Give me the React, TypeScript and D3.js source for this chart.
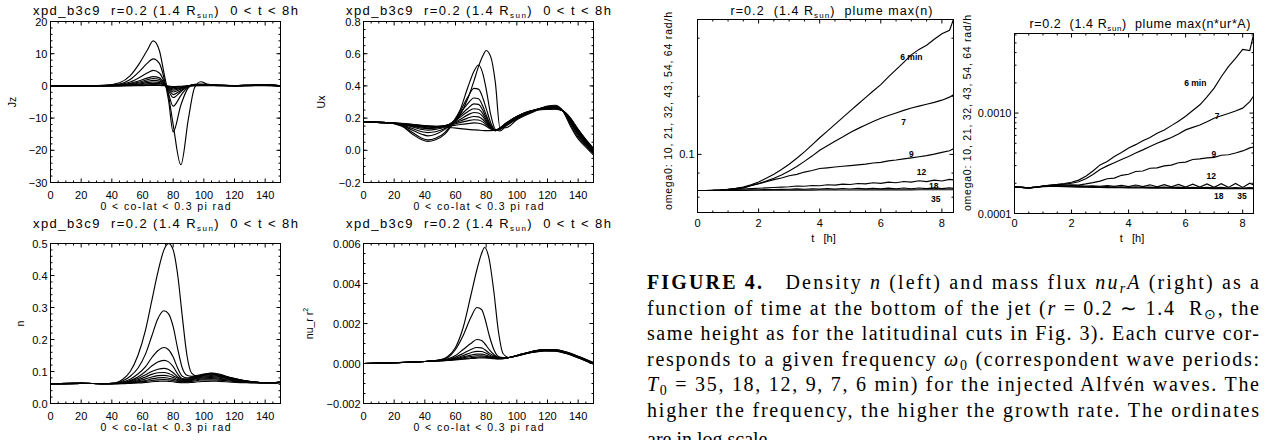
import React from 'react';
import * as d3 from 'd3';

// ---------- left block: latitudinal cuts at r=0.2, 0 < t < 8h ----------
const jzX = [0, 20, 35, 45, 52, 58, 63, 67, 71, 74, 77, 80, 85, 90, 94, 98, 102, 110, 120, 130, 140, 150];
const jzCurves = [
  [0, 0.05, 0.2, 1.0, 3.2, 7.0, 11.0, 14.0, 11.0, 4.0, -3.0, -12.0, -24.5, -10.0, -0.5, 1.3, 0.6, 0.2, 0.1, 0.2, 0.4, 0],
  [0, 0.05, 0.15, 0.6, 2.0, 4.5, 7.0, 8.4, 7.0, 2.5, -4.5, -14.3, -6.0, -0.5, 0.5, 0.6, 0.4, 0.2, 0.1, 0.2, 0.3, 0],
  [0, 0.03, 0.1, 0.4, 1.2, 2.6, 4.0, 4.8, 4.0, 1.5, -2.5, -6.3, -3.0, -0.2, 0.4, 0.4, 0.3, 0.2, 0.1, 0.2, 0.3, 0],
  [0, 0.03, 0.08, 0.3, 0.8, 1.6, 2.4, 2.9, 2.5, 1.0, -1.5, -3.6, -1.8, 0, 0.35, 0.35, 0.3, 0.2, 0.1, 0.2, 0.3, 0],
  [0, 0.02, 0.06, 0.2, 0.6, 1.2, 1.9, 2.3, 2.0, 0.8, -1.0, -2.7, -1.4, 0, 0.3, 0.3, 0.3, 0.2, 0.1, 0.2, 0.3, 0],
  [0, 0.02, 0.05, 0.15, 0.45, 0.9, 1.4, 1.7, 1.5, 0.6, -0.7, -1.9, -1.0, 0, 0.25, 0.3, 0.25, 0.15, 0.1, 0.15, 0.25, 0],
  [0, 0.01, 0.04, 0.1, 0.3, 0.6, 1.0, 1.2, 1.05, 0.4, -0.5, -1.3, -0.7, 0, 0.2, 0.25, 0.2, 0.15, 0.1, 0.15, 0.25, 0],
  [0, 0.01, 0.03, 0.08, 0.2, 0.4, 0.65, 0.8, 0.7, 0.3, -0.3, -0.9, -0.5, 0, 0.15, 0.2, 0.2, 0.1, 0.05, 0.1, 0.2, 0],
  [0, 0.01, 0.02, 0.05, 0.1, 0.2, 0.33, 0.4, 0.35, 0.15, -0.15, -0.5, -0.3, 0, 0.1, 0.15, 0.15, 0.1, 0.05, 0.1, 0.15, 0],
  [0, 0, 0.01, 0.02, 0.04, 0.08, 0.12, 0.15, 0.13, 0.05, -0.05, -0.2, -0.1, 0, 0.05, 0.08, 0.08, 0.05, 0.02, 0.05, 0.1, 0],
];

const uxX = [0, 15, 25, 32, 38, 42, 47, 53, 58, 63, 68, 72, 75, 78, 80, 83, 86, 89, 93, 100, 110, 120, 125, 130, 135, 140, 145, 150];
const uxCurves = [
  [0.175, 0.172, 0.15, 0.1, 0.065, 0.055, 0.065, 0.1, 0.16, 0.22, 0.32, 0.43, 0.52, 0.59, 0.62, 0.58, 0.42, 0.14, 0.14, 0.19, 0.235, 0.275, 0.28, 0.245, 0.15, 0.07, 0.02, -0.03],
  [0.175, 0.172, 0.152, 0.11, 0.075, 0.065, 0.075, 0.11, 0.17, 0.25, 0.39, 0.49, 0.53, 0.47, 0.38, 0.22, 0.13, 0.12, 0.15, 0.195, 0.24, 0.272, 0.275, 0.245, 0.16, 0.08, 0.03, -0.02],
  [0.175, 0.172, 0.155, 0.125, 0.1, 0.09, 0.1, 0.13, 0.17, 0.24, 0.33, 0.385, 0.38, 0.32, 0.26, 0.17, 0.125, 0.13, 0.155, 0.2, 0.243, 0.27, 0.272, 0.245, 0.17, 0.09, 0.035, -0.015],
  [0.175, 0.172, 0.158, 0.135, 0.115, 0.11, 0.115, 0.135, 0.17, 0.23, 0.29, 0.325, 0.32, 0.27, 0.22, 0.155, 0.125, 0.13, 0.158, 0.2, 0.245, 0.268, 0.27, 0.245, 0.175, 0.1, 0.04, -0.01],
  [0.175, 0.172, 0.16, 0.145, 0.13, 0.125, 0.13, 0.145, 0.175, 0.215, 0.26, 0.288, 0.285, 0.245, 0.205, 0.15, 0.125, 0.135, 0.16, 0.203, 0.245, 0.266, 0.268, 0.245, 0.18, 0.105, 0.045, -0.005],
  [0.175, 0.172, 0.162, 0.15, 0.138, 0.135, 0.137, 0.15, 0.172, 0.205, 0.24, 0.258, 0.255, 0.225, 0.19, 0.145, 0.125, 0.135, 0.162, 0.205, 0.245, 0.264, 0.266, 0.245, 0.185, 0.11, 0.05, 0],
  [0.175, 0.172, 0.163, 0.153, 0.143, 0.14, 0.142, 0.152, 0.168, 0.192, 0.22, 0.235, 0.232, 0.208, 0.18, 0.14, 0.123, 0.135, 0.163, 0.207, 0.246, 0.262, 0.264, 0.245, 0.19, 0.115, 0.055, 0.003],
  [0.175, 0.172, 0.164, 0.156, 0.148, 0.145, 0.146, 0.153, 0.165, 0.182, 0.2, 0.21, 0.208, 0.19, 0.17, 0.138, 0.122, 0.136, 0.165, 0.208, 0.247, 0.26, 0.262, 0.245, 0.192, 0.12, 0.058, 0.006],
  [0.175, 0.172, 0.165, 0.158, 0.151, 0.148, 0.148, 0.152, 0.16, 0.172, 0.183, 0.19, 0.188, 0.175, 0.16, 0.135, 0.122, 0.137, 0.167, 0.21, 0.247, 0.258, 0.26, 0.245, 0.195, 0.125, 0.062, 0.008],
  [0.175, 0.172, 0.166, 0.16, 0.153, 0.15, 0.149, 0.15, 0.153, 0.16, 0.166, 0.17, 0.168, 0.16, 0.15, 0.132, 0.122, 0.138, 0.168, 0.21, 0.247, 0.256, 0.258, 0.245, 0.198, 0.128, 0.065, 0.01],
  [0.175, 0.172, 0.167, 0.161, 0.155, 0.152, 0.149, 0.145, 0.14, 0.135, 0.13, 0.127, 0.125, 0.123, 0.122, 0.122, 0.125, 0.14, 0.17, 0.21, 0.245, 0.254, 0.256, 0.245, 0.2, 0.13, 0.068, 0.012],
];

const nX = [0, 20, 35, 42, 47, 52, 57, 62, 66, 70, 74, 77, 80, 83, 86, 89, 92, 96, 100, 105, 110, 118, 128, 140, 150];
const nCurves = [
  [0.062, 0.063, 0.062, 0.064, 0.075, 0.1, 0.15, 0.23, 0.32, 0.41, 0.48, 0.5, 0.48, 0.4, 0.27, 0.15, 0.095, 0.085, 0.09, 0.095, 0.092, 0.08, 0.07, 0.065, 0.066],
  [0.062, 0.063, 0.062, 0.063, 0.07, 0.085, 0.11, 0.155, 0.21, 0.265, 0.29, 0.28, 0.24, 0.17, 0.11, 0.088, 0.085, 0.088, 0.092, 0.094, 0.09, 0.08, 0.07, 0.065, 0.066],
  [0.062, 0.063, 0.062, 0.063, 0.067, 0.076, 0.092, 0.115, 0.143, 0.165, 0.175, 0.168, 0.145, 0.11, 0.085, 0.08, 0.082, 0.086, 0.09, 0.092, 0.088, 0.079, 0.07, 0.065, 0.066],
  [0.062, 0.063, 0.062, 0.063, 0.066, 0.072, 0.083, 0.1, 0.117, 0.13, 0.135, 0.13, 0.115, 0.092, 0.078, 0.077, 0.08, 0.084, 0.088, 0.09, 0.086, 0.078, 0.07, 0.065, 0.066],
  [0.062, 0.063, 0.062, 0.063, 0.065, 0.07, 0.078, 0.09, 0.1, 0.107, 0.11, 0.106, 0.096, 0.083, 0.075, 0.075, 0.078, 0.082, 0.086, 0.087, 0.084, 0.077, 0.069, 0.065, 0.066],
  [0.062, 0.063, 0.062, 0.063, 0.064, 0.068, 0.074, 0.083, 0.091, 0.096, 0.097, 0.094, 0.087, 0.079, 0.073, 0.073, 0.076, 0.08, 0.083, 0.084, 0.082, 0.076, 0.069, 0.065, 0.066],
  [0.062, 0.063, 0.062, 0.062, 0.064, 0.066, 0.071, 0.077, 0.083, 0.087, 0.088, 0.086, 0.081, 0.075, 0.071, 0.071, 0.074, 0.078, 0.08, 0.081, 0.079, 0.074, 0.068, 0.065, 0.066],
  [0.062, 0.063, 0.062, 0.062, 0.063, 0.065, 0.068, 0.072, 0.077, 0.08, 0.081, 0.079, 0.076, 0.072, 0.069, 0.069, 0.072, 0.075, 0.077, 0.078, 0.076, 0.072, 0.067, 0.065, 0.066],
  [0.062, 0.063, 0.062, 0.062, 0.063, 0.064, 0.066, 0.069, 0.072, 0.074, 0.075, 0.074, 0.072, 0.069, 0.067, 0.067, 0.069, 0.072, 0.074, 0.074, 0.073, 0.07, 0.066, 0.065, 0.066],
  [0.062, 0.063, 0.062, 0.062, 0.062, 0.063, 0.064, 0.066, 0.068, 0.069, 0.07, 0.069, 0.068, 0.066, 0.065, 0.065, 0.066, 0.068, 0.069, 0.07, 0.069, 0.067, 0.065, 0.064, 0.066],
];

const fluxX = [0, 20, 40, 50, 55, 60, 65, 70, 74, 77, 79, 82, 85, 88, 91, 95, 100, 110, 118, 125, 132, 140, 150];
const fluxCurves = [
  [0, 0.00004, 0.0001, 0.00018, 0.00035, 0.0008, 0.0018, 0.0034, 0.0047, 0.0055, 0.0058, 0.0052, 0.0036, 0.0016, 0.0005, 0.0003, 0.00038, 0.00055, 0.00062, 0.00062, 0.0005, 0.00028, -0.00003],
  [0, 0.00004, 0.0001, 0.00018, 0.0003, 0.0007, 0.0014, 0.0023, 0.0028, 0.0027, 0.0023, 0.0014, 0.0007, 0.00035, 0.0003, 0.0003, 0.00038, 0.00056, 0.00064, 0.00063, 0.00051, 0.00029, -0.00002],
  [0, 0.00004, 0.0001, 0.00017, 0.00024, 0.0004, 0.0007, 0.001, 0.0012, 0.00115, 0.001, 0.0007, 0.00045, 0.0003, 0.00028, 0.0003, 0.00038, 0.00057, 0.00065, 0.00064, 0.00052, 0.0003, -0.00001],
  [0, 0.00004, 0.0001, 0.00016, 0.0002, 0.00032, 0.0005, 0.0007, 0.0008, 0.00078, 0.0007, 0.00052, 0.00038, 0.00028, 0.00027, 0.0003, 0.00039, 0.00058, 0.00066, 0.00065, 0.00053, 0.00031, 0],
  [0, 0.00004, 0.0001, 0.00015, 0.00019, 0.00027, 0.0004, 0.00054, 0.00061, 0.0006, 0.00055, 0.00043, 0.00033, 0.00027, 0.00026, 0.0003, 0.00039, 0.00058, 0.00067, 0.00066, 0.00054, 0.00032, 0.00001],
  [0, 0.00004, 0.0001, 0.00015, 0.00018, 0.00024, 0.00033, 0.00042, 0.00047, 0.00047, 0.00044, 0.00036, 0.0003, 0.00026, 0.00025, 0.0003, 0.0004, 0.00059, 0.00068, 0.00067, 0.00055, 0.00033, 0.00002],
  [0, 0.00004, 0.0001, 0.00014, 0.00017, 0.00021, 0.00028, 0.00035, 0.00039, 0.00039, 0.00037, 0.00032, 0.00028, 0.00025, 0.00025, 0.0003, 0.0004, 0.0006, 0.00069, 0.00068, 0.00056, 0.00034, 0.00003],
  [0, 0.00004, 0.0001, 0.00014, 0.00016, 0.0002, 0.00024, 0.00029, 0.00032, 0.00033, 0.00032, 0.00029, 0.00026, 0.00024, 0.00024, 0.0003, 0.0004, 0.0006, 0.0007, 0.00069, 0.00057, 0.00035, 0.00004],
  [0, 0.00004, 0.0001, 0.00013, 0.00015, 0.00018, 0.00021, 0.00025, 0.00027, 0.00028, 0.00028, 0.00026, 0.00024, 0.00023, 0.00024, 0.0003, 0.0004, 0.0006, 0.0007, 0.0007, 0.00058, 0.00036, 0.00005],
];

const colatMajor = [0, 20, 40, 60, 80, 100, 120, 140];
const colatLabels = ['0', '20', '40', '60', '80', '100', '120', '140'];
const jzTicks = [-30, -20, -10, 0, 10, 20];
const jzLabels = ['\u221230', '\u221220', '\u221210', '0', '10', '20'];
const uxTicks = [-0.2, 0, 0.2, 0.4, 0.6, 0.8];
const uxLabels = ['\u22120.2', '0.0', '0.2', '0.4', '0.6', '0.8'];
const nTicks = [0, 0.1, 0.2, 0.3, 0.4, 0.5];
const nLabels = ['0.0', '0.1', '0.2', '0.3', '0.4', '0.5'];
const fluxTicks = [-0.002, 0, 0.002, 0.004, 0.006];
const fluxLabels = ['\u22120.002', '0.000', '0.002', '0.004', '0.006'];

// ---------- right block: plume maxima vs time ----------
const tHours = [0, 0.25, 0.5, 0.75, 1, 1.25, 1.5, 1.75, 2, 2.25, 2.5, 2.75, 3, 3.25, 3.5, 3.75, 4, 4.25, 4.5, 4.75, 5, 5.25, 5.5, 5.75, 6, 6.25, 6.5, 6.75, 7, 7.25, 7.5, 7.75, 8, 8.25, 8.38];
const periods = ['6 min', '7', '9', '12', '18', '35'];

const nMax6 = [0.065, 0.065, 0.0651, 0.0654, 0.066, 0.0667, 0.0678, 0.0695, 0.072, 0.0752, 0.079, 0.0835, 0.089, 0.0955, 0.103, 0.112, 0.122, 0.132, 0.143, 0.155, 0.168, 0.182, 0.197, 0.213, 0.23, 0.252, 0.275, 0.3, 0.328, 0.35, 0.368, 0.395, 0.422, 0.44, 0.5];
const nMax7 = [0.065, 0.065, 0.0651, 0.0654, 0.0659, 0.0666, 0.0676, 0.069, 0.0706, 0.0727, 0.0752, 0.0783, 0.082, 0.0865, 0.092, 0.098, 0.105, 0.111, 0.117, 0.123, 0.13, 0.136, 0.142, 0.148, 0.154, 0.159, 0.164, 0.169, 0.174, 0.178, 0.182, 0.186, 0.191, 0.198, 0.204];
const nMax9 = [0.065, 0.065, 0.0651, 0.0653, 0.0657, 0.0662, 0.0669, 0.0688, 0.0705, 0.0722, 0.074, 0.0755, 0.0775, 0.0788, 0.081, 0.0825, 0.0845, 0.0852, 0.086, 0.0868, 0.0875, 0.0883, 0.089, 0.0902, 0.091, 0.0925, 0.0935, 0.0948, 0.096, 0.0972, 0.0985, 0.1003, 0.1025, 0.1045, 0.107];
const nMax12 = [0.065, 0.065, 0.0651, 0.0653, 0.0656, 0.0659, 0.0662, 0.0665, 0.0668, 0.0671, 0.0674, 0.0677, 0.068, 0.0686, 0.0684, 0.069, 0.0688, 0.0696, 0.0693, 0.0701, 0.0698, 0.0707, 0.0703, 0.0713, 0.0708, 0.0718, 0.0713, 0.0724, 0.0718, 0.073, 0.0723, 0.0736, 0.0728, 0.0742, 0.0738];
const nMax18 = [0.065, 0.065, 0.065, 0.0651, 0.0652, 0.0653, 0.0654, 0.0655, 0.0656, 0.0657, 0.0658, 0.0659, 0.066, 0.0663, 0.066, 0.0664, 0.0661, 0.0665, 0.0661, 0.0666, 0.0662, 0.0667, 0.0663, 0.0668, 0.0663, 0.0669, 0.0664, 0.067, 0.0664, 0.067, 0.0665, 0.0671, 0.0665, 0.0671, 0.0667];
const nMax35 = [0.065, 0.065, 0.065, 0.065, 0.0651, 0.0651, 0.0651, 0.0652, 0.0652, 0.0652, 0.0652, 0.0653, 0.0653, 0.0653, 0.0653, 0.0653, 0.0654, 0.0654, 0.0654, 0.0654, 0.0654, 0.0654, 0.0655, 0.0655, 0.0655, 0.0655, 0.0655, 0.0655, 0.0655, 0.0656, 0.0656, 0.0656, 0.0656, 0.0656, 0.0656];

const fMax6 = [0.000184, 0.000182, 0.00018, 0.000183, 0.000188, 0.000192, 0.000195, 0.000199, 0.000205, 0.000215, 0.000235, 0.000265, 0.000305, 0.00033, 0.00037, 0.000405, 0.00045, 0.000485, 0.00053, 0.00057, 0.00063, 0.00068, 0.00075, 0.00083, 0.00093, 0.00106, 0.00121, 0.00145, 0.00177, 0.0023, 0.0029, 0.0035, 0.0043, 0.0042, 0.006];
const fMax7 = [0.000184, 0.000182, 0.00018, 0.000183, 0.000188, 0.000191, 0.000193, 0.000196, 0.0002, 0.000207, 0.000222, 0.000245, 0.000274, 0.000298, 0.00032, 0.000345, 0.00037, 0.0004, 0.00043, 0.000465, 0.0005, 0.000535, 0.00057, 0.00062, 0.00068, 0.00072, 0.00076, 0.00082, 0.00089, 0.00094, 0.00099, 0.00105, 0.00112, 0.0013, 0.00147];
const fMax9 = [0.000184, 0.000182, 0.00018, 0.000183, 0.000187, 0.00019, 0.000191, 0.000192, 0.000193, 0.000192, 0.000197, 0.000203, 0.00021, 0.000222, 0.000225, 0.00024, 0.000246, 0.000262, 0.000265, 0.000282, 0.000285, 0.000298, 0.000303, 0.00032, 0.000325, 0.000345, 0.00035, 0.000358, 0.000362, 0.00038, 0.000385, 0.0004, 0.00042, 0.00045, 0.00046];
const fMax12 = [0.000184, 0.000182, 0.00018, 0.000183, 0.000187, 0.00019, 0.000191, 0.000191, 0.00019, 0.000189, 0.000188, 0.000189, 0.000187, 0.00019, 0.000186, 0.000191, 0.000185, 0.000192, 0.000185, 0.000193, 0.000184, 0.000194, 0.000184, 0.000195, 0.000183, 0.000196, 0.000183, 0.000197, 0.000182, 0.000198, 0.000182, 0.000199, 0.000182, 0.0002, 0.000192];
const fMax18 = [0.000184, 0.000182, 0.00018, 0.000183, 0.000186, 0.000188, 0.000189, 0.000188, 0.000187, 0.000186, 0.000185, 0.000185, 0.000184, 0.000185, 0.000183, 0.000184, 0.000182, 0.000184, 0.000182, 0.000183, 0.000181, 0.000183, 0.000181, 0.000183, 0.00018, 0.000182, 0.00018, 0.000182, 0.00018, 0.000182, 0.000179, 0.000181, 0.000179, 0.000181, 0.00018];
const fMax35 = [0.000184, 0.000182, 0.00018, 0.000182, 0.000185, 0.000186, 0.000186, 0.000185, 0.000184, 0.000183, 0.000183, 0.000182, 0.000182, 0.000181, 0.000181, 0.000181, 0.00018, 0.00018, 0.00018, 0.000179, 0.000179, 0.000179, 0.000179, 0.000178, 0.000178, 0.000178, 0.000178, 0.000178, 0.000177, 0.000177, 0.000177, 0.000177, 0.000177, 0.000177, 0.000177];

// label anchor points [t, value] for each period, left and right plot
const nLabelAt = [[7.0, 0.32], [6.75, 0.147], [7.0, 0.1], [7.33, 0.081], [7.73, 0.069], [7.8, 0.0585]];
const fLabelAt = [[6.34, 0.002], [7.1, 0.00093], [6.99, 0.00039], [6.9, 0.000235], [7.16, 0.000151], [7.98, 0.000151]];

const timeMajor = [0, 2, 4, 6, 8];
const timeLabels = ['0', '2', '4', '6', '8'];

const SANS = '"Liberation Sans", Arial, Helvetica, sans-serif';
const SERIF = '"Liberation Serif", "Times New Roman", Times, serif';

type Box = { x0: number; x1: number; y0: number; y1: number };

function Axes({ box, x, y, xMajor, xMinor, xLabels, yMajor, yMinor, yLabels, xLabelY, fs = 11 }: any) {
  const big = 4;
  const small = 2;
  const els: any[] = [];
  xMajor.forEach((v: number, i: number) => {
    const p = x(v);
    els.push(<line key={`xa${i}`} x1={p} x2={p} y1={box.y1} y2={box.y1 - big} />);
    els.push(<line key={`xb${i}`} x1={p} x2={p} y1={box.y0} y2={box.y0 + big} />);
  });
  xMinor.forEach((v: number, i: number) => {
    const p = x(v);
    els.push(<line key={`xc${i}`} x1={p} x2={p} y1={box.y1} y2={box.y1 - small} />);
    els.push(<line key={`xd${i}`} x1={p} x2={p} y1={box.y0} y2={box.y0 + small} />);
  });
  yMajor.forEach((v: number, i: number) => {
    const p = y(v);
    els.push(<line key={`ya${i}`} x1={box.x0} x2={box.x0 + big} y1={p} y2={p} />);
    els.push(<line key={`yb${i}`} x1={box.x1} x2={box.x1 - big} y1={p} y2={p} />);
  });
  yMinor.forEach((v: number, i: number) => {
    const p = y(v);
    els.push(<line key={`yc${i}`} x1={box.x0} x2={box.x0 + small} y1={p} y2={p} />);
    els.push(<line key={`yd${i}`} x1={box.x1} x2={box.x1 - small} y1={p} y2={p} />);
  });
  return (
    <g>
      <rect x={box.x0} y={box.y0} width={box.x1 - box.x0} height={box.y1 - box.y0} fill="none" stroke="#000" strokeWidth={1} />
      <g stroke="#000" strokeWidth={1}>{els}</g>
      <g fontFamily={SANS} fontSize={fs} fill="#000">
        {xMajor.map((v: number, i: number) => (
          <text key={`xl${i}`} x={x(v)} y={xLabelY} textAnchor="middle" dominantBaseline="central">{xLabels[i]}</text>
        ))}
        {yMajor.map((v: number, i: number) => (
          <text key={`yl${i}`} x={box.x0 - 3} y={y(v)} textAnchor="end" dominantBaseline="central">{yLabels[i]}</text>
        ))}
      </g>
    </g>
  );
}

function Sun({ size = 8 }: { size?: number }) {
  return (
    <>
      <tspan>R</tspan>
      <tspan dy={3} fontSize={size}>sun</tspan>
      <tspan dy={-3}>)</tspan>
    </>
  );
}

function CutPanel({ box, xs, curves, yDomain, yTicks, yLabels, yMinorStep, yTitle, yTitleX, titleY }: any) {
  const x = d3.scaleLinear().domain([0, 150]).range([box.x0, box.x1]);
  const y = d3.scaleLinear().domain(yDomain).range([box.y1, box.y0]);
  const line = d3.line<number>().x((_, i) => x(xs[i])).y((d) => y(d)).curve(d3.curveMonotoneX);
  const xMinor = d3.range(0, 150.01, 5).filter((v) => v % 20 !== 0);
  const yMinor = d3.range(yDomain[0], yDomain[1] + yMinorStep / 2, yMinorStep);
  const cx = (box.x0 + box.x1) / 2;
  const cy = (box.y0 + box.y1) / 2;
  return (
    <g>
      <defs>
        <clipPath id={`clip${box.x0}${box.y0}`}>
          <rect x={box.x0} y={box.y0} width={box.x1 - box.x0} height={box.y1 - box.y0} />
        </clipPath>
      </defs>
      <g clipPath={`url(#clip${box.x0}${box.y0})`}>
        {curves.map((c: number[], i: number) => (
          <path key={i} d={line(c) || ''} fill="none" stroke="#000" strokeWidth={1.15} />
        ))}
      </g>
      <Axes box={box} x={x} y={y} xMajor={colatMajor} xMinor={xMinor} xLabels={colatLabels}
        yMajor={yTicks} yMinor={yMinor} yLabels={yLabels} xLabelY={box.y1 + 12.5} />
      <text x={cx} y={box.y1 + 23} textAnchor="middle" dominantBaseline="central" fontFamily={SANS} fontSize={10.5}
        textLength={130} lengthAdjust="spacing" style={{ whiteSpace: 'pre' }}>0 &lt; co-lat &lt; 0.3 pi rad</text>
      <text x={cx} y={titleY} textAnchor="middle" fontFamily={SANS} fontSize={13} textLength={265} lengthAdjust="spacing"
        style={{ whiteSpace: 'pre' }}>
        <tspan>xpd_b3c9  r=0.2 (1.4 </tspan><Sun /><tspan>  0 &lt; t &lt; 8h</tspan>
      </text>
      <text transform={`translate(${yTitleX},${cy}) rotate(-90)`} textAnchor="middle" dominantBaseline="central"
        fontFamily={SANS} fontSize={10.5}>{yTitle}</text>
    </g>
  );
}

function TimePanel({ box, series, yDomain, yMajor, yMajorLabels, yMinor, labelAt, title, titleW, titleY, yLabX, yLabY, yLabW }: any) {
  const x = d3.scaleLinear().domain([0, 8.38]).range([box.x0, box.x1]);
  const y = d3.scaleLog().domain(yDomain).range([box.y1, box.y0]);
  const line = d3.line<number>().x((_, i) => x(tHours[i])).y((d) => y(d));
  const xMinor = d3.range(0.5, 8.38, 0.5).filter((v) => v % 2 !== 0);
  const cx = (box.x0 + box.x1) / 2;
  return (
    <g>
      <defs>
        <clipPath id={`tclip${box.x0}`}>
          <rect x={box.x0} y={box.y0} width={box.x1 - box.x0} height={box.y1 - box.y0} />
        </clipPath>
      </defs>
      <g clipPath={`url(#tclip${box.x0})`}>
        {series.map((s: number[], i: number) => (
          <path key={i} d={line(s) || ''} fill="none" stroke="#000" strokeWidth={1.15} />
        ))}
      </g>
      <Axes box={box} x={x} y={y} xMajor={timeMajor} xMinor={xMinor} xLabels={timeLabels}
        yMajor={yMajor} yMinor={yMinor} yLabels={yMajorLabels} xLabelY={223} />
      <text x={cx - 2} y={238} textAnchor="middle" dominantBaseline="central" fontFamily={SANS} fontSize={11}
        style={{ whiteSpace: 'pre' }}>t   [h]</text>
      <g fontFamily={SANS} fontSize={8.5} fontWeight="bold">
        {labelAt.map((p: number[], i: number) => (
          <text key={i} x={x(p[0])} y={y(p[1])} textAnchor="middle" dominantBaseline="central">{periods[i]}</text>
        ))}
      </g>
      <text x={cx + 6} y={titleY} textAnchor="middle" fontFamily={SANS} fontSize={12.5} textLength={titleW}
        lengthAdjust="spacing" style={{ whiteSpace: 'pre' }}>
        <tspan>r=0.2  (1.4 </tspan><Sun /><tspan>  plume {title}</tspan>
      </text>
      <text transform={`translate(${yLabX},${yLabY}) rotate(-90)`} textAnchor="middle" dominantBaseline="central"
        fontFamily={SANS} fontSize={10.5} textLength={yLabW} lengthAdjust="spacing">
        omega0: 10, 21, 32, 43, 54, 64 rad/h
      </text>
    </g>
  );
}

function Caption() {
  const x0 = 647;
  const w = 612;
  const base = [289, 314.5, 340, 365.5, 391, 416.5, 446];
  const common = { x: x0, fontFamily: SERIF, fontSize: 20, fill: '#000', style: { whiteSpace: 'pre' as const } };
  return (
    <g>
      <text {...common} y={base[0]} textLength={w} lengthAdjust="spacing">
        <tspan fontWeight="bold">FIGURE 4.</tspan>
        <tspan>   Density </tspan><tspan fontStyle="italic">n</tspan>
        <tspan> (left) and mass flux </tspan><tspan fontStyle="italic">nu</tspan>
        <tspan fontStyle="italic" fontSize={14} dy={4}>r</tspan><tspan fontStyle="italic" dy={-4}>A</tspan>
        <tspan> (right) as a</tspan>
      </text>
      <text {...common} y={base[1]} textLength={w} lengthAdjust="spacing">
        <tspan>function of time at the bottom of the jet (</tspan><tspan fontStyle="italic">r</tspan>
        <tspan> = 0.2 ∼ 1.4  R</tspan><tspan fontSize={14} dy={4}>⊙</tspan><tspan dy={-4}>, the</tspan>
      </text>
      <text {...common} y={base[2]} textLength={w} lengthAdjust="spacing">
        same height as for the latitudinal cuts in Fig. 3). Each curve cor-
      </text>
      <text {...common} y={base[3]} textLength={w} lengthAdjust="spacing">
        <tspan>responds to a given frequency </tspan><tspan fontStyle="italic">ω</tspan>
        <tspan fontSize={14} dy={4}>0</tspan><tspan dy={-4}> (correspondent wave periods:</tspan>
      </text>
      <text {...common} y={base[4]} textLength={w} lengthAdjust="spacing">
        <tspan fontStyle="italic">T</tspan><tspan fontSize={14} dy={4}>0</tspan>
        <tspan dy={-4}> = 35, 18, 12, 9, 7, 6 min) for the injected Alfvén waves. The</tspan>
      </text>
      <text {...common} y={base[5]} textLength={w} lengthAdjust="spacing">
        higher the frequency, the higher the growth rate. The ordinates
      </text>
      <text {...common} y={base[6]}>are in log scale.</text>
    </g>
  );
}

const logMinorB = [0.0002, 0.0003, 0.0004, 0.0005, 0.0006, 0.0007, 0.0008, 0.0009, 0.002, 0.003, 0.004, 0.005, 0.006];

export default function App() {
  const p1: Box = { x0: 50.5, x1: 280.5, y0: 21.5, y1: 182.5 };
  const p2: Box = { x0: 363.5, x1: 593.5, y0: 21.5, y1: 182.5 };
  const p3: Box = { x0: 50.5, x1: 280.5, y0: 243.5, y1: 403.5 };
  const p4: Box = { x0: 363.5, x1: 593.5, y0: 243.5, y1: 403.5 };
  const pa: Box = { x0: 697.5, x1: 953.5, y0: 19.5, y1: 212.5 };
  const pb: Box = { x0: 1014.5, x1: 1253.5, y0: 33.5, y1: 213.5 };
  return (
    <svg width={1268} height={440} viewBox="0 0 1268 440"
      style={{ position: 'absolute', left: 0, top: 0, background: '#fff', display: 'block' }}>
      <rect width={1268} height={440} fill="#fff" />
      <CutPanel box={p1} xs={jzX} curves={jzCurves} yDomain={[-30, 20]} yTicks={jzTicks} yLabels={jzLabels}
        yMinorStep={2} yTitle="Jz" yTitleX={12} titleY={15} />
      <CutPanel box={p2} xs={uxX} curves={uxCurves} yDomain={[-0.2, 0.8]} yTicks={uxTicks} yLabels={uxLabels}
        yMinorStep={0.05} yTitle="Ux" yTitleX={321} titleY={15} />
      <CutPanel box={p3} xs={nX} curves={nCurves} yDomain={[0, 0.5]} yTicks={nTicks} yLabels={nLabels}
        yMinorStep={0.02} yTitle="n" yTitleX={20} titleY={228} />
      <CutPanel box={p4} xs={fluxX} curves={fluxCurves} yDomain={[-0.002, 0.006]} yTicks={fluxTicks} yLabels={fluxLabels}
        yMinorStep={0.0005} yTitle={<><tspan>nu_r r</tspan><tspan dy={-4} fontSize={7}>2</tspan></>} yTitleX={309} titleY={228} />
      <TimePanel box={pa} series={[nMax6, nMax7, nMax9, nMax12, nMax18, nMax35]} yDomain={[0.05, 0.5]}
        yMajor={[0.1]} yMajorLabels={['0.1']} yMinor={[0.06, 0.08, 0.2, 0.4]} labelAt={nLabelAt}
        title="max(n)" titleW={202} titleY={14.5} yLabX={668} yLabY={111} yLabW={198} />
      <TimePanel box={pb} series={[fMax6, fMax7, fMax9, fMax12, fMax18, fMax35]} yDomain={[0.0001, 0.0062]}
        yMajor={[0.0001, 0.001]} yMajorLabels={['0.0001', '0.0010']} yMinor={logMinorB} labelAt={fLabelAt}
        title="max(n*ur*A)" titleW={221} titleY={28} yLabX={967} yLabY={113} yLabW={196} />
      <Caption />
    </svg>
  );
}
